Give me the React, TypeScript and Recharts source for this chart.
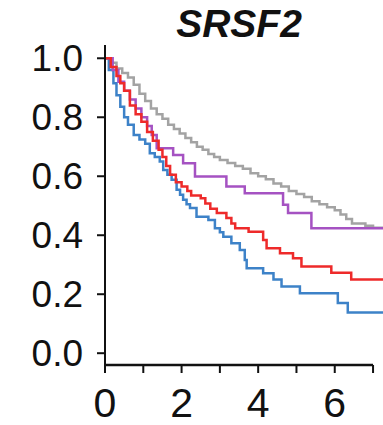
import React from 'react';
import { LineChart, Line, XAxis, YAxis, ReferenceLine } from 'recharts';

// survival curves (years vs fraction surviving)
const grayTimes = [0, 0.15, 0.3, 0.45, 0.6, 0.75, 0.9, 1.05, 1.2, 1.35, 1.5, 1.65, 1.8, 1.95, 2.1, 2.25, 2.4, 2.55, 2.7, 2.85, 3.0, 3.2, 3.4, 3.6, 3.8, 4.0, 4.2, 4.4, 4.6, 4.8, 5.0, 5.2, 5.4, 5.6, 5.8, 6.0, 6.15, 6.3, 6.45, 6.8, 7.0, 7.3];
const graySurv = [1.0, 0.985, 0.965, 0.95, 0.935, 0.91, 0.88, 0.855, 0.83, 0.81, 0.795, 0.775, 0.76, 0.745, 0.73, 0.715, 0.7, 0.69, 0.675, 0.665, 0.655, 0.645, 0.635, 0.625, 0.61, 0.6, 0.59, 0.575, 0.565, 0.55, 0.54, 0.53, 0.515, 0.505, 0.495, 0.485, 0.47, 0.455, 0.44, 0.432, 0.425, 0.425];

const purpleTimes = [0, 0.2, 0.35, 0.5, 0.65, 0.8, 0.95, 1.1, 1.22, 1.35, 1.78, 2.04, 2.35, 3.17, 3.65, 4.65, 4.78, 5.39, 7.3];
const purpleSurv = [1.0, 0.96, 0.92, 0.89, 0.86, 0.83, 0.8, 0.77, 0.74, 0.695, 0.672, 0.644, 0.599, 0.565, 0.542, 0.503, 0.475, 0.424, 0.424];

const redTimes = [0, 0.15, 0.3, 0.4, 0.5, 0.65, 0.8, 0.95, 1.1, 1.25, 1.4, 1.5, 1.6, 1.7, 1.85, 2.0, 2.15, 2.25, 2.5, 2.62, 2.75, 2.92, 3.17, 3.3, 3.4, 3.75, 4.13, 4.22, 4.57, 4.91, 5.13, 5.91, 6.43, 7.3];
const redSurv = [1.0, 0.97, 0.94, 0.915, 0.89, 0.84, 0.81, 0.785, 0.75, 0.72, 0.69, 0.665, 0.635, 0.605, 0.58, 0.565, 0.55, 0.535, 0.525, 0.508, 0.49, 0.475, 0.458, 0.44, 0.424, 0.412, 0.384, 0.356, 0.339, 0.322, 0.294, 0.273, 0.25, 0.25];

const blueTimes = [0, 0.1, 0.22, 0.3, 0.4, 0.5, 0.6, 0.75, 0.9, 1.05, 1.17, 1.3, 1.43, 1.52, 1.63, 1.74, 1.87, 1.96, 2.04, 2.13, 2.22, 2.39, 2.7, 2.87, 3.0, 3.09, 3.3, 3.52, 3.65, 3.7, 4.13, 4.4, 4.61, 5.09, 6.08, 6.34, 7.3];
const blueSurv = [1.0, 0.96, 0.915, 0.875, 0.836, 0.8, 0.775, 0.74, 0.725, 0.71, 0.678, 0.665, 0.65, 0.621, 0.605, 0.588, 0.554, 0.537, 0.52, 0.505, 0.492, 0.463, 0.452, 0.424, 0.41, 0.395, 0.373, 0.35, 0.316, 0.288, 0.271, 0.25, 0.226, 0.203, 0.17, 0.138, 0.138];

const xTicks = [0, 1, 2, 3, 4, 5, 6, 7];
const yTicks = [0, 0.2, 0.4, 0.6, 0.8, 1.0];

const toPoints = (t: number[], s: number[]) => t.map((x, i) => ({ t: x, s: s[i] }));

const font = '"Liberation Sans", Arial, Helvetica, sans-serif';

export default function App() {
  const series = [
    { key: 'gray', data: toPoints(grayTimes, graySurv), color: '#a3a3a3' },
    { key: 'blue', data: toPoints(blueTimes, blueSurv), color: '#3d82c8' },
    { key: 'purple', data: toPoints(purpleTimes, purpleSurv), color: '#a552c2' },
    { key: 'red', data: toPoints(redTimes, redSurv), color: '#ee2a2a' },
  ];

  return (
    <div style={{ position: 'absolute', left: 0, top: 0, width: 383, height: 425, background: '#fff' }}>
      <div
        style={{
          position: 'absolute',
          left: 0,
          top: 4,
          width: 478,
          textAlign: 'center',
          fontFamily: font,
          fontWeight: 'bold',
          fontStyle: 'italic',
          fontSize: 39,
          lineHeight: 1,
          color: '#111',
        }}
      >
        SRSF2
      </div>
      <LineChart width={383} height={425} margin={{ top: 45, right: 0, bottom: 0, left: 0 }}>
        <XAxis
          type="number"
          dataKey="t"
          domain={[0, 7.26]}
          allowDataOverflow
          ticks={xTicks}
          tickFormatter={(v: number) => (v % 2 === 0 ? String(v) : '')}
          axisLine={false}
          tickLine={{ stroke: '#111', strokeWidth: 2 }}
          tickSize={8}
          tickMargin={15}
          height={60}
          tick={{ fill: '#111', fontSize: 41, fontFamily: font }}
          interval={0}
        />
        <YAxis
          type="number"
          dataKey="s"
          domain={[-0.04, 1.045]}
          allowDataOverflow
          ticks={yTicks}
          tickFormatter={(v: number) => v.toFixed(1)}
          axisLine={{ stroke: '#111', strokeWidth: 2 }}
          tickLine={{ stroke: '#111', strokeWidth: 2 }}
          tickSize={8}
          tickMargin={14}
          width={105}
          tick={{ fill: '#111', fontSize: 37, fontFamily: font }}
          interval={0}
        />
        <ReferenceLine
          segment={[{ x: 0, y: -0.04 }, { x: 7, y: -0.04 }]}
          stroke="#111"
          strokeWidth={2.5}
          ifOverflow="visible"
        />
        {series.map((s) => (
          <Line
            key={s.key}
            data={s.data}
            dataKey="s"
            type="stepAfter"
            stroke={s.color}
            strokeWidth={2.5}
            dot={false}
            activeDot={false}
            isAnimationActive={false}
          />
        ))}
      </LineChart>
    </div>
  );
}
